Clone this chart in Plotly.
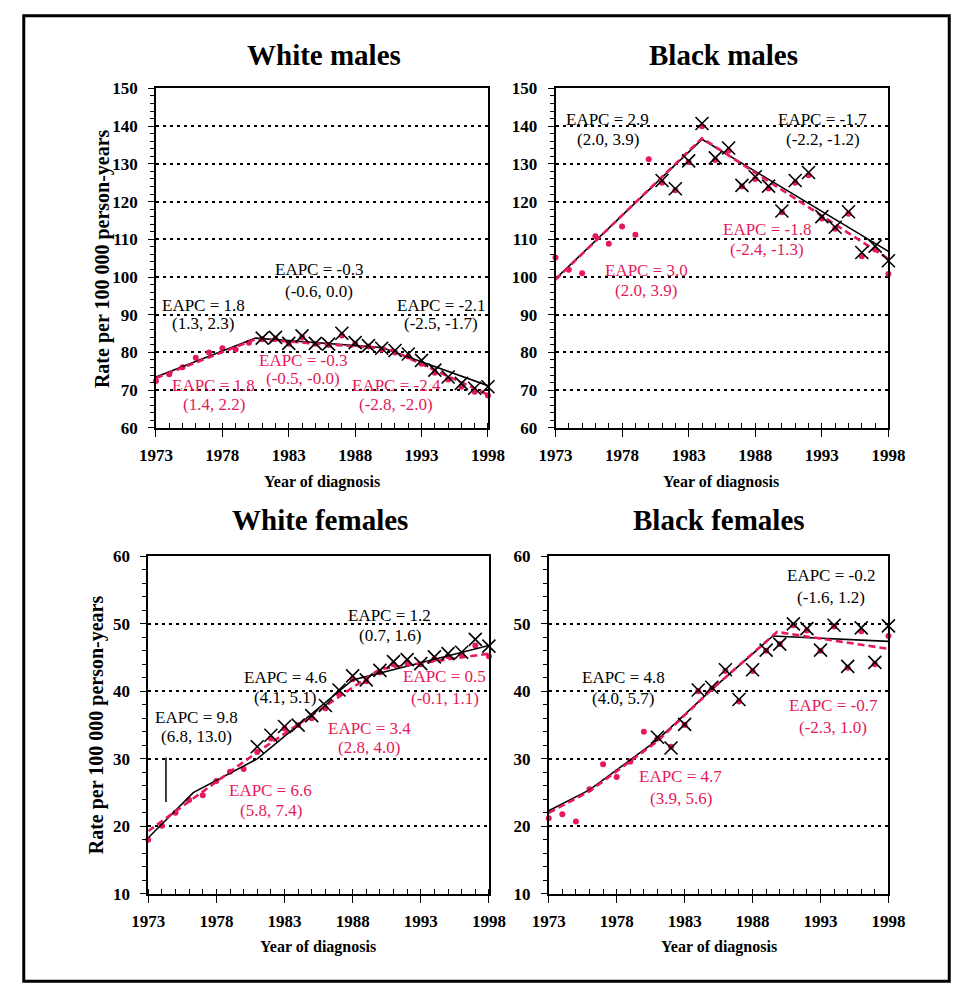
import plotly.graph_objects as go

# ---------------- data ----------------
years = list(range(1973, 1999))
x_years = list(range(1981, 1999))

# White males
wm_dots = [72.4, 74.2, 76.1, 78.6, 80.0, 81.1, 80.8, 82.6, 83.5, 83.7, 82.3, 84.0, 82.3,
           82.0, 84.5, 82.3, 81.6, 80.8, 80.0, 78.9, 77.0, 74.6, 72.8, 70.9, 69.6, 68.6]
wm_cross = [83.8, 84.0, 82.4, 84.4, 82.4, 82.2, 85.1, 82.6, 81.8, 81.1, 80.5, 79.6, 77.9,
            75.3, 73.5, 71.8, 70.5, 70.9]
wm_fit_black_x = [1973, 1980.5, 1990, 1998]
wm_fit_black_y = [73.5, 83.8, 81.3, 71.2]
wm_fit_red_x = [1973, 1980.5, 1990.5, 1998]
wm_fit_red_y = [73.2, 83.5, 81.0, 68.8]

# Black males
bm_dots = [105.2, 101.9, 101.0, 110.8, 108.8, 113.4, 111.2, 131.2, 125.0, 123.0, 130.5, 140.0,
           131.0, 133.5, 124.0, 126.0, 123.5, 117.2, 125.0, 127.0, 115.5, 112.8, 116.8, 105.5,
           107.3, 100.8]
bm_cross = [125.6, 123.4, 130.8, 140.7, 131.6, 134.2, 124.3, 126.6, 124.1, 117.5, 125.6, 127.7,
            116.0, 113.2, 117.3, 106.5, 108.2, 104.3]
bm_fit_black_x = [1973, 1984, 1998]
bm_fit_black_y = [99.5, 136.5, 106.8]
bm_fit_red_x = [1973, 1984, 1998]
bm_fit_red_y = [99.3, 136.8, 104.8]

# White females
wf_dots = [18.0, 20.1, 22.0, 23.9, 24.6, 26.7, 28.1, 28.5, 31.0, 33.0, 34.5, 35.0, 36.0,
           37.5, 39.6, 41.8, 41.5, 42.8, 44.0, 44.3, 44.0, 44.8, 45.2, 45.5, 46.8, 45.2]
wf_cross = [31.8, 33.5, 34.8, 35.0, 36.4, 37.9, 40.2, 42.3, 41.7, 43.1, 44.4, 44.7, 44.1,
            45.1, 45.6, 45.8, 47.7, 46.7]
wf_fit_black_x = [1973, 1976.3, 1981, 1988, 1998]
wf_fit_black_y = [18.3, 25.0, 30.0, 41.7, 46.8]
wf_fit_red_x = [1973, 1981, 1990, 1998]
wf_fit_red_y = [19.3, 31.0, 43.3, 45.6]

# Black females
bf_dots = [21.2, 21.8, 20.7, 25.5, 29.2, 27.3, 29.6, 34.0, 33.0, 31.8, 35.0, 40.0, 40.4,
           43.0, 38.5, 43.0, 46.0, 47.0, 49.8, 49.0, 46.0, 49.6, 43.5, 48.9, 44.0, 48.2]
bf_cross = [33.2, 31.6, 35.1, 40.2, 40.6, 43.2, 38.8, 43.2, 46.1, 47.0, 50.0, 49.3, 46.1,
            49.8, 43.7, 49.4, 44.3, 49.7]
bf_fit_black_x = [1973, 1976, 1981, 1985, 1989.5, 1998]
bf_fit_black_y = [22.3, 25.4, 32.8, 40.3, 48.2, 47.4]
bf_fit_red_x = [1973, 1976, 1981, 1985, 1989.8, 1998]
bf_fit_red_y = [22.0, 25.2, 32.6, 40.3, 48.8, 46.3]

titles = ["White males", "Black males", "White females", "Black females"]

# ---------------- layout helpers ----------------
W, H = 973, 998
def px(x):
    return x / W
def py(y):
    return 1 - y / H

RED = "#E6195A"
SERIF = "Liberation Serif"

panels = [
    dict(xd=(144, 488), yd=(81, 427), yr=(60, 150),
         dots=wm_dots, cross=wm_cross,
         bx=wm_fit_black_x, by=wm_fit_black_y, rx=wm_fit_red_x, ry=wm_fit_red_y),
    dict(xd=(558, 903), yd=(81, 427), yr=(60, 150),
         dots=bm_dots, cross=bm_cross,
         bx=bm_fit_black_x, by=bm_fit_black_y, rx=bm_fit_red_x, ry=bm_fit_red_y),
    dict(xd=(136, 489), yd=(558, 902), yr=(10, 60),
         dots=wf_dots, cross=wf_cross,
         bx=wf_fit_black_x, by=wf_fit_black_y, rx=wf_fit_red_x, ry=wf_fit_red_y),
    dict(xd=(551, 903), yd=(558, 902), yr=(10, 60),
         dots=bf_dots, cross=bf_cross,
         bx=bf_fit_black_x, by=bf_fit_black_y, rx=bf_fit_red_x, ry=bf_fit_red_y),
]

fig = go.Figure()
layout = dict(
    width=W, height=H, margin=dict(l=0, r=0, t=0, b=0),
    paper_bgcolor="white", plot_bgcolor="white", showlegend=False,
    font=dict(family=SERIF, color="black"),
)

for i, p in enumerate(panels):
    n = "" if i == 0 else str(i + 1)
    xa, ya = "x" + n, "y" + n
    fig.add_trace(go.Scatter(x=years, y=p["dots"], mode="markers", xaxis=xa, yaxis=ya,
                             marker=dict(color=RED, size=6), cliponaxis=False))
    fig.add_trace(go.Scatter(x=p["bx"], y=p["by"], mode="lines", xaxis=xa, yaxis=ya,
                             line=dict(color="black", width=1.6)))
    fig.add_trace(go.Scatter(x=p["rx"], y=p["ry"], mode="lines", xaxis=xa, yaxis=ya,
                             line=dict(color=RED, width=2.6, dash="7px,4px")))
    fig.add_trace(go.Scatter(x=x_years, y=p["cross"], mode="markers", xaxis=xa, yaxis=ya,
                             marker=dict(symbol="x-thin-open", size=13, color="black",
                                         line=dict(color="black", width=1.6)),
                             cliponaxis=False))
    layout["xaxis" + n] = dict(
        domain=[px(p["xd"][0]), px(p["xd"][1])], anchor=ya,
        range=[1973, 1998], tick0=1973, dtick=5,
        showgrid=False, zeroline=False,
        showline=True, linecolor="black", linewidth=1.5, mirror=True,
        ticks="outside", ticklen=7, tickwidth=1.3, tickcolor="black",
        minor=dict(dtick=1, ticks="inside", ticklen=5, tickwidth=1, tickcolor="black"),
        tickfont=dict(family=SERIF, size=17, color="black", weight="bold"),
        ticklabelstandoff=4,
    )
    layout["yaxis" + n] = dict(
        domain=[py(p["yd"][1]), py(p["yd"][0])], anchor=xa,
        range=list(p["yr"]), dtick=10,
        showgrid=True, gridcolor="black", gridwidth=1.6, griddash="3px,4px",
        zeroline=False,
        showline=True, linecolor="black", linewidth=1.5, mirror=True,
        ticks="outside", ticklen=6, tickwidth=1.3, tickcolor="black",
        minor=dict(dtick=2, ticks="outside", ticklen=4, tickwidth=1, tickcolor="black",
                   showgrid=False),
        tickfont=dict(family=SERIF, size=17, color="black", weight="bold"),
        ticklabelstandoff=7,
    )

fig.update_layout(**layout)

annotations = []
def txt(x, y, text, color="black", size=17, bold=False, angle=0):
    annotations.append(dict(
        x=px(x), y=py(y), xref="paper", yref="paper", text=text, showarrow=False,
        xanchor="center", yanchor="middle", textangle=angle,
        font=dict(family=SERIF, size=size, color=color,
                  weight="bold" if bold else "normal"),
    ))

def eapc(x, y1, y2, l1, l2, color):
    txt(x, y1, l1, color)
    txt(x, y2, l2, color)

# panel titles
txt(318, 47, "White males", size=29, bold=True)
txt(732, 47, "Black males", size=29, bold=True)
txt(314, 521, "White females", size=29, bold=True)
txt(727, 521, "Black females", size=29, bold=True)

# axis titles
for cx, cy in [(316, 482), (730, 482), (312, 956), (727, 956)]:
    txt(cx, cy, "Year of diagnosis", size=16, bold=True)
txt(88, 254, "Rate per 100 000 person-years", size=20, bold=True, angle=-90)
txt(82, 730, "Rate per 100 000 person-years", size=20, bold=True, angle=-90)

# EAPC labels - White males
eapc(313, 266, 288, "EAPC = -0.3", "(-0.6, 0.0)", "black")
eapc(193, 302, 321, "EAPC = 1.8", "(1.3, 2.3)", "black")
eapc(439, 302, 321, "EAPC = -2.1", "(-2.5, -1.7)", "black")
eapc(296, 358, 377, "EAPC = -0.3", "(-0.5, -0.0)", RED)
eapc(204, 384, 403, "EAPC = 1.8", "(1.4, 2.2)", RED)
eapc(393, 384, 403, "EAPC = -2.4", "(-2.8, -2.0)", RED)
# Black males
eapc(612, 113, 133, "EAPC = 2.9", "(2.0, 3.9)", "black")
eapc(835, 113, 133, "EAPC = -1.7", "(-2.2, -1.2)", "black")
eapc(652, 267, 287, "EAPC = 3.0", "(2.0, 3.9)", RED)
eapc(777, 225, 245, "EAPC = -1.8", "(-2.4, -1.3)", RED)
# White females
eapc(186, 722, 742, "EAPC = 9.8", "(6.8, 13.0)", "black")
eapc(278, 681, 702, "EAPC = 4.6", "(4.1, 5.1)", "black")
eapc(386, 618, 639, "EAPC = 1.2", "(0.7, 1.6)", "black")
eapc(263, 797, 817, "EAPC = 6.6", "(5.8, 7.4)", RED)
eapc(365, 733, 753, "EAPC = 3.4", "(2.8, 4.0)", RED)
eapc(443, 680, 703, "EAPC = 0.5", "(-0.1, 1.1)", RED)
# Black females
eapc(628, 681, 703, "EAPC = 4.8", "(4.0, 5.7)", "black")
eapc(843, 578, 600, "EAPC = -0.2", "(-1.6, 1.2)", "black")
eapc(688, 782, 805, "EAPC = 4.7", "(3.9, 5.6)", RED)
eapc(846, 710, 732, "EAPC = -0.7", "(-2.3, 1.0)", RED)

fig.update_layout(annotations=annotations)

# pointer line (white females) and outer frame
fig.add_shape(type="line", xref="x3", yref="y3", x0=1974.3, x1=1974.3, y0=23.6, y1=30.2,
              line=dict(color="black", width=1.5))
fig.add_shape(type="rect", xref="paper", yref="paper",
              x0=px(7), x1=px(966), y0=py(991), y1=py(7),
              line=dict(color="black", width=3))

fig.write_html("out.html")
